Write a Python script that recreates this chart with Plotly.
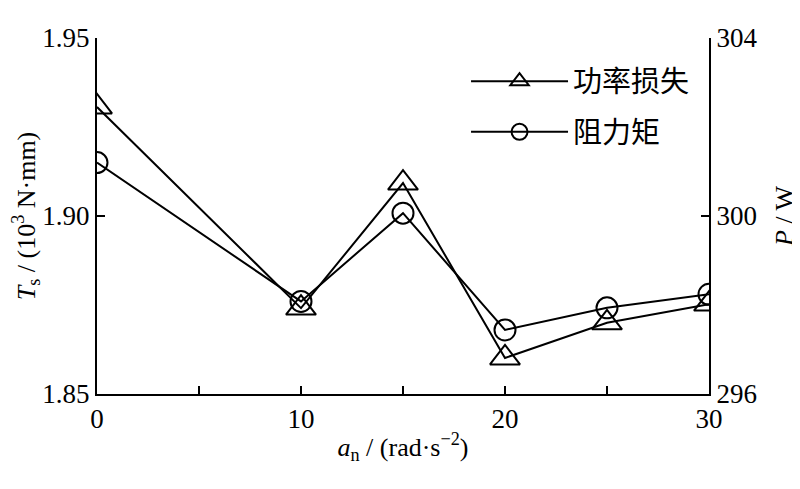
import plotly.graph_objects as go

# data
a_n = [0, 10, 15, 20, 25, 30]
power_loss = [302.45, 297.93, 300.74, 296.81, 297.6, 298.02]   # P / W (right axis)
torque = [1.915, 1.876, 1.9008, 1.868, 1.8742, 1.878]          # Ts / (10^3 N·mm) (left axis)
x_tickvals = [0, 5, 10, 15, 20, 25, 30]
x_ticktext = ["0", "", "10", "", "20", "", "30"]
y1_ticks = [1.85, 1.90, 1.95]
y2_ticks = [296, 300, 304]

SERIF = "Liberation Serif"
CJK = "Noto Sans CJK SC"

fig = go.Figure()
fig.add_trace(go.Scatter(
    x=a_n, y=power_loss, yaxis="y2", mode="lines+markers", name="功率损失",
    legendgroup="a",
    line=dict(color="black", width=2),
    marker=dict(symbol="triangle-up-open", size=26, color="black", line=dict(width=2, color="black")),
))
fig.add_trace(go.Scatter(
    x=a_n, y=torque, yaxis="y", mode="lines+markers", name="阻力矩",
    legendgroup="b",
    line=dict(color="black", width=2),
    marker=dict(symbol="circle-open", size=21, color="black", line=dict(width=2, color="black")),
))

def axis_common():
    return dict(showline=True, linecolor="black", linewidth=2, ticks="inside",
                tickcolor="black", tickwidth=2, ticklen=8, showgrid=False, zeroline=False,
                automargin=False,
                tickfont=dict(family=SERIF, size=27, color="black"))

fig.update_layout(
    width=792, height=481,
    paper_bgcolor="white", plot_bgcolor="white",
    margin=dict(l=89, r=91, t=30, b=95),
    font=dict(family=SERIF, size=27, color="black"),
    xaxis=dict(range=[0, 30], tickvals=x_tickvals, ticktext=x_ticktext,
               title=dict(text="<i>a</i><sub>n</sub> / (rad·s<sup>−2</sup>)", standoff=4,
                          font=dict(family=SERIF, size=26, color="black")),
               **axis_common()),
    yaxis=dict(range=[1.85, 1.95], tickvals=y1_ticks, tickformat=".2f",
               title=dict(text="<i>T</i><sub>s</sub> / (10<sup>3</sup> N·mm)", standoff=11,
                          font=dict(family=SERIF, size=26, color="black")),
               **axis_common()),
    yaxis2=dict(range=[296, 304], tickvals=y2_ticks, overlaying="y", side="right",
                title=dict(text="<i>P</i> / W", standoff=18,
                           font=dict(family=SERIF, size=26, color="black")),
                **axis_common()),
    showlegend=True,
    legend=dict(x=0.603, y=0.95, xanchor="left", yanchor="top", bgcolor="rgba(0,0,0,0)",
                font=dict(family=CJK, size=29, color="black"), itemwidth=97,
                tracegroupgap=10),
)

fig.write_html("out.html")
